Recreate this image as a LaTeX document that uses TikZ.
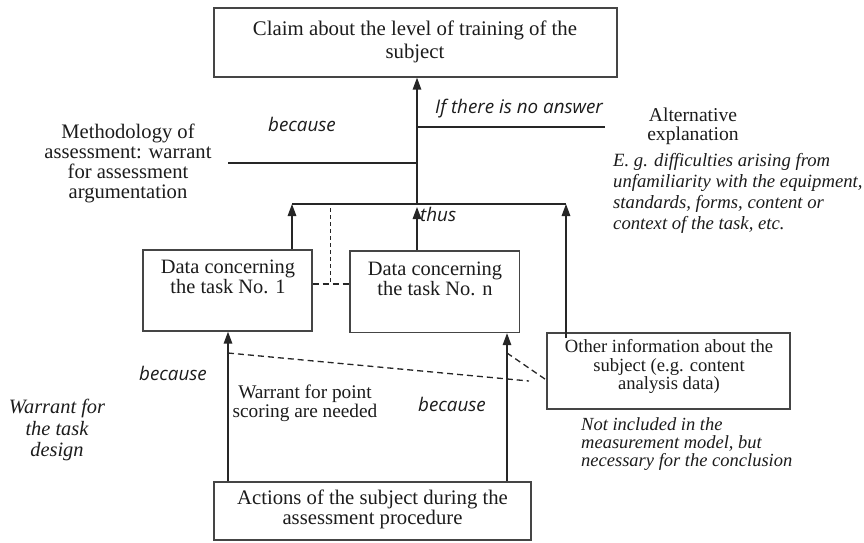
\documentclass[tikz,border=0pt]{standalone}
\usepackage{fontspec}
\setmainfont{Liberation Serif}
\newfontfamily\labf{Open Sans}
\usetikzlibrary{arrows.meta}
\definecolor{boxc}{HTML}{454545}
\definecolor{linec}{HTML}{262626}
\definecolor{txtc}{HTML}{1C1C1C}
\begin{document}
\begin{tikzpicture}[x=1pt,y=-1pt,
  box/.style={draw=boxc, line width=1.3pt, inner sep=0pt},
  txt/.style={align=center, inner sep=0pt, text=txtc},
  ltxt/.style={align=left, inner sep=0pt, text=txtc},
  lab/.style={font=\labf\itshape\fontsize{18.8}{20}\selectfont, inner sep=0pt, text=txtc},
  ln/.style={draw=linec, line width=1.4pt},
  arr/.style={ln, -{Triangle[length=12pt,width=8.5pt]}},
  dsh/.style={draw=linec, line width=1.3pt, dash pattern=on 6pt off 4pt}]
\useasboundingbox[fill=white] (0,0) rectangle (864,542);

% boxes
\node[box, minimum width=403pt, minimum height=69pt] (claim) at (415.5,42.5) {};
\node[box, minimum width=169pt, minimum height=81pt] (d1) at (227.5,290.5) {};
\node[box, minimum width=169.5pt, minimum height=81.5pt] (dn) at (434.75,291.75) {};
\node[box, minimum width=243pt, minimum height=76pt] (other) at (668.5,371) {};
\node[box, minimum width=317pt, minimum height=58pt] (actions) at (372.5,511) {};

% box texts
\node[txt, font=\fontsize{20.8}{23}\selectfont] (claimt) at (415,41.5) {Claim about the level of training of the\\subject};
\node[txt, font=\fontsize{20.4}{20}\selectfont] (d1t) at (228,277) {Data concerning\\the task No. 1};
\node[txt, font=\fontsize{20.4}{20}\selectfont] (dnt) at (435,279) {Data concerning\\the task No. n};
\node[txt, font=\fontsize{18.6}{18.5}\selectfont] (othert) at (669,366.5) {Other information about the\\subject (e.g. content\\analysis data)};
\node[txt, font=\fontsize{20.7}{19.5}\selectfont] (actionst) at (372.5,509.5) {Actions of the subject during the\\assessment procedure};

% free texts
\node[txt, font=\fontsize{20.6}{19.7}\selectfont] (meth) at (128,163.5) {Methodology of\\assessment: warrant\\for assessment\\argumentation};
\node[txt, font=\fontsize{19.6}{19}\selectfont] (alt) at (693,126.5) {Alternative\\explanation};
\node[ltxt, anchor=west, font=\itshape\fontsize{18.7}{21}\selectfont] (eg) at (613,193) {E. g. difficulties arising from\\unfamiliarity with the equipment,\\standards, forms, content or\\context of the task, etc.};
\node[txt, font=\fontsize{19.3}{19}\selectfont] (wpoint) at (305,403.5) {Warrant for point\\scoring are needed};
\node[txt, font=\itshape\fontsize{20.4}{21.5}\selectfont] (wtask) at (57,430) {Warrant for\\the task\\design};
\node[ltxt, anchor=west, font=\itshape\fontsize{18.5}{18}\selectfont] (notinc) at (581,444) {Not included in the\\measurement model, but\\necessary for the conclusion};

% sans italic labels
\node[lab, anchor=base] (bec1) at (302,131) {because};
\node[lab, anchor=base west] (ifno) at (435,113) {If there is no answer};
\node[lab, anchor=base west] (thus) at (420,221) {thus};
\node[lab, anchor=base] (bec2) at (173,380) {because};
\node[lab, anchor=base] (bec3) at (452,411) {because};

% coordinates
\coordinate (j1) at (292,204);
\coordinate (jn) at (417,204);
\coordinate (jo) at (566,204);
\coordinate (os) at (566,338);
\coordinate (m1) at (228,163);
\coordinate (a1) at (605,127);
\coordinate (dv) at (330,208);
\coordinate (dh) at (330,284);
\coordinate (x1) at (228,0);
\coordinate (xn) at (507,0);
\coordinate (p1) at (228,353);
\coordinate (p2) at (507,353);
\coordinate (q1) at (529,381);
\coordinate (q) at (547,380);

% solid connectors
\draw[ln] (j1) -- (jo);
\draw[arr] (d1.north -| j1) -- (j1);
\draw[arr] (dn.north -| jn) -- ([yshift=-3pt]jn);
\draw[arr] (jn) -- (claim.south -| jn);
\draw[arr] (os) -- (jo);
\draw[ln] (m1) -- (m1 -| jn);
\draw[ln] (a1 -| jn) -- (a1);
\draw[arr] (actions.north -| x1) -- (d1.south -| x1);
\draw[arr] (actions.north -| xn) -- (dn.south -| xn);

% dashed connectors
\draw[dsh] (d1.east |- dh) -- (dn.west |- dh);
\draw[dsh, line width=1pt, dash pattern=on 4pt off 3pt] (dv) -- (dh);
\draw[dsh] (p1) -- (q1);
\draw[dsh] (p2) -- (other.west |- q);
\end{tikzpicture}
\end{document}
